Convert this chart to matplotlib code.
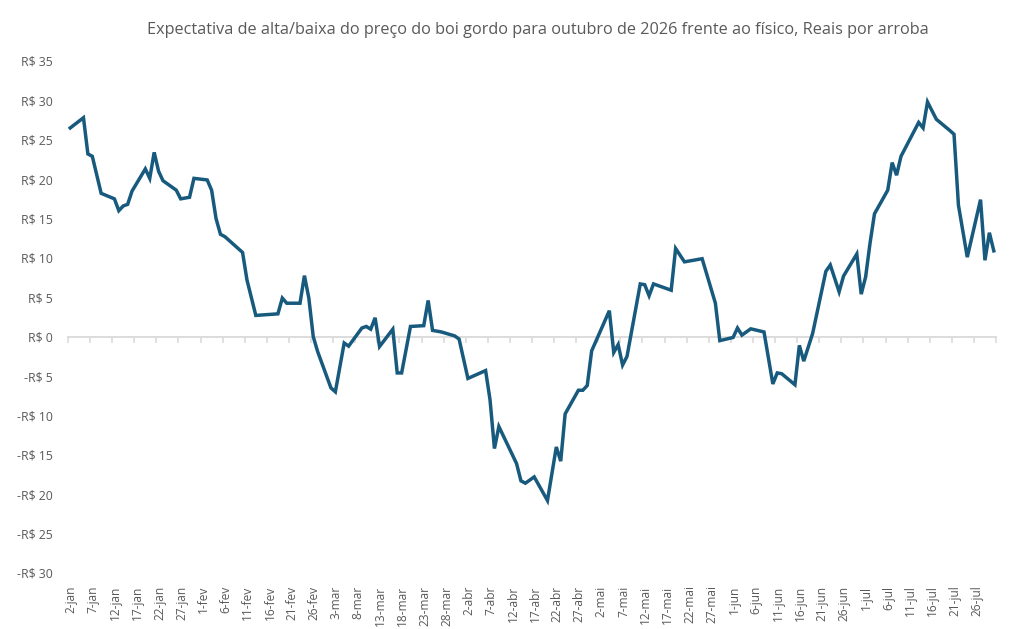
import matplotlib
matplotlib.use('Agg')
import matplotlib.pyplot as plt
import numpy as np
from matplotlib.ticker import FuncFormatter

# days counted from 2-jan, value in R$/@
days = [0, 3, 4, 5, 7, 10, 11, 12, 13, 14, 17, 18, 19, 20, 21, 24, 25, 27,
        28, 31, 32, 33, 34, 35, 39, 40, 42, 47, 48, 49, 52, 53, 54, 55, 56,
        59, 60, 62, 63, 66, 67, 68, 69, 70, 73, 74, 75, 77, 80, 81, 82, 84,
        87, 88, 90, 94, 95, 96, 97, 101, 102, 103, 105, 108, 110, 111, 112,
        115, 116, 117, 118, 122, 123, 124, 125, 126, 129, 130, 131, 132, 136,
        137, 139, 143, 146, 147, 150, 151, 152, 154, 157, 159, 160, 161, 164,
        165, 166, 168, 171, 172, 174, 175, 178, 179, 180, 181, 182, 185, 186,
        187, 188, 192, 193, 194, 196, 199, 200, 201, 203, 206, 207, 208, 209]
values = [26.5, 27.8, 23.2, 22.9, 18.2, 17.5, 16.0, 16.6, 16.8, 18.5, 21.3,
          20.1, 23.4, 21.0, 19.8, 18.6, 17.5, 17.7, 20.1, 19.9, 18.6, 15.0,
          13.0, 12.7, 10.7, 7.2, 2.7, 2.9, 4.9, 4.25, 4.25, 7.75, 4.9, 0.0,
          -1.9, -6.5, -7.0, -0.8, -1.2, 1.1, 1.3, 0.95, 2.4, -1.25, 0.95,
          -4.6, -4.6, 1.3, 1.4, 4.6, 0.8, 0.6, 0.1, -0.3, -5.3, -4.3, -8.0,
          -14.2, -11.4, -16.1, -18.3, -18.6, -17.8, -20.8, -14.0, -15.8, -9.8,
          -6.8, -6.8, -6.2, -1.8, 3.3, -2.0, -1.0, -3.6, -2.5, 6.7, 6.6, 5.2,
          6.7, 5.9, 11.2, 9.5, 9.9, 4.25, -0.5, -0.1, 1.1, 0.2, 1.0, 0.6,
          -6.0, -4.6, -4.7, -6.1, -1.1, -3.1, 0.4, 8.3, 9.1, 5.7, 7.7, 10.5,
          5.4, 7.6, 11.9, 15.6, 18.6, 22.1, 20.5, 22.9, 27.2, 26.5, 29.8,
          27.6, 26.2, 25.7, 16.7, 10.1, 17.4, 9.7, 13.2, 10.9]

tick_labels = ['2-jan', '7-jan', '12-jan', '17-jan', '22-jan', '27-jan',
               '1-fev', '6-fev', '11-fev', '16-fev', '21-fev', '26-fev',
               '3-mar', '8-mar', '13-mar', '18-mar', '23-mar', '28-mar',
               '2-abr', '7-abr', '12-abr', '17-abr', '22-abr', '27-abr',
               '2-mai', '7-mai', '12-mai', '17-mai', '22-mai', '27-mai',
               '1-jun', '6-jun', '11-jun', '16-jun', '21-jun', '26-jun',
               '1-jul', '6-jul', '11-jul', '16-jul', '21-jul', '26-jul']

title = ('Expectativa de alta/baixa do preço do boi gordo para outubro de '
         '2026 frente ao físico, Reais por arroba')

txt = '#595959'
plt.rcParams['font.family'] = ['Open Sans', 'DejaVu Sans']

fig = plt.figure(figsize=(10.11, 6.29), dpi=100)
ax = fig.add_axes([68 / 1011, 56 / 629, 928 / 1011, 512 / 629])

x = np.array(days) + 0.5
ax.plot(x, values, color='#185A7D', linewidth=2.5, zorder=3,
        solid_joinstyle='miter')

ax.set_xlim(0, 210)
ax.set_ylim(-30, 35)
ax.set_yticks(np.arange(-30, 36, 5))


def reais(v, pos):
    v = int(round(v))
    if v < 0:
        return '-R$ %d' % abs(v)
    return 'R$ %d' % v


ax.yaxis.set_major_formatter(FuncFormatter(reais))
ax.tick_params(axis='y', length=0, pad=11, labelsize=8.8, labelcolor=txt)

for s in ['top', 'right', 'left']:
    ax.spines[s].set_visible(False)
ax.spines['bottom'].set_position(('data', 0))
ax.spines['bottom'].set_color('#D9D9D9')
ax.spines['bottom'].set_linewidth(1.3)
ax.set_xticks(np.arange(0, 211, 5))
ax.tick_params(axis='x', direction='out', length=4, width=1.1,
               color='#D9D9D9', labelbottom=False)

sec = ax.secondary_xaxis('bottom')
sec.set_xticks(np.arange(len(tick_labels)) * 5 + 0.7)
sec.set_xticklabels(tick_labels, rotation=90)
sec.tick_params(length=0, pad=9, labelsize=8.6, labelcolor=txt)
sec.spines['bottom'].set_visible(False)

fig.text(0.532, 0.953, title, ha='center', va='center', fontsize=11.7,
         color=txt)

fig.savefig('out.png', dpi=100, facecolor='white')
